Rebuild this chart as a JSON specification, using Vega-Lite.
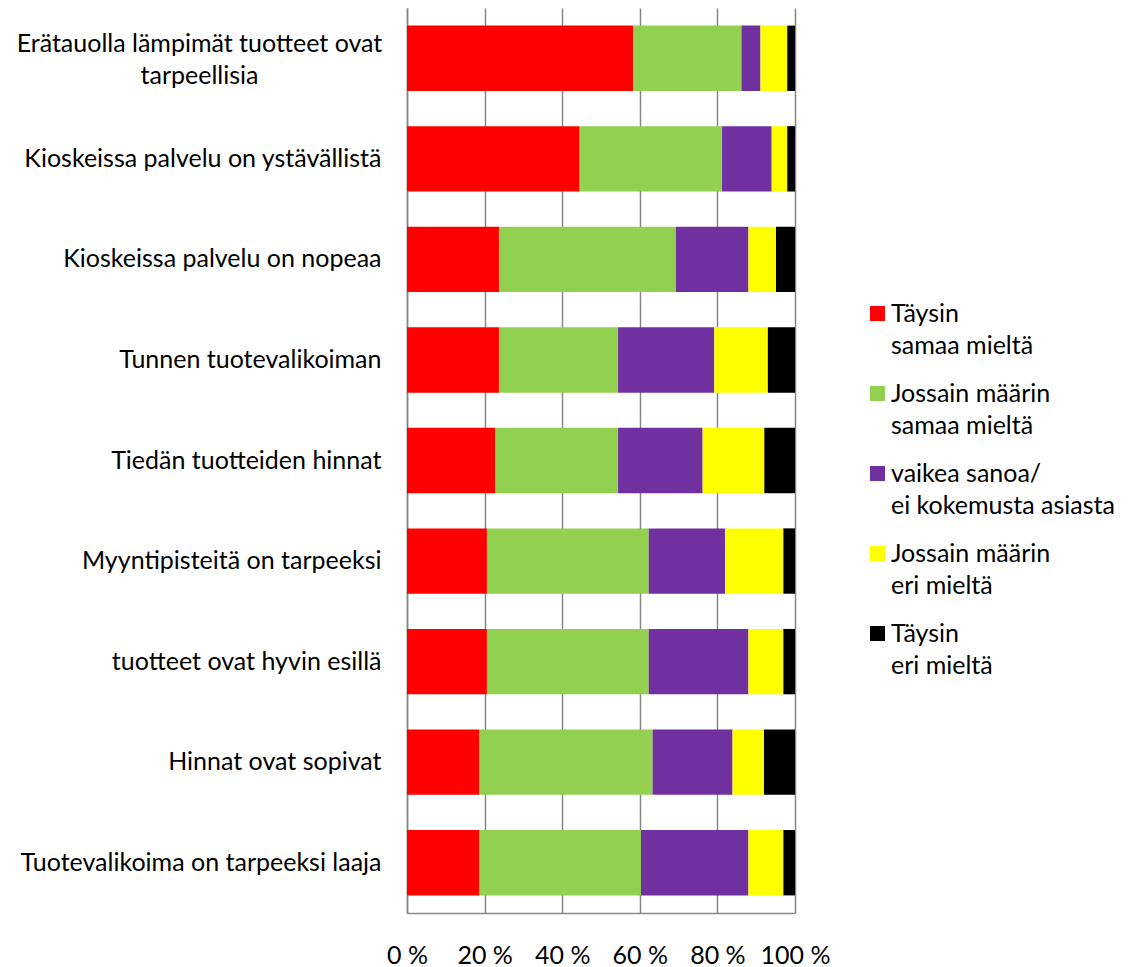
{
  "$schema": "https://vega.github.io/schema/vega-lite/v6.json",
  "autosize": {"type": "none"},
  "padding": {"left": 407, "top": 8, "right": 340, "bottom": 54},
  "width": 388,
  "height": 905,
  "background": "white",
  "config": {
    "font": "Lato",
    "view": {"stroke": null},
    "style": {"guide-label": {"lineHeight": 32}},
    "axis": {
      "labelFont": "Lato",
      "labelFontSize": 25,
      "labelColor": "#000000",
      "domainColor": "#868686",
      "domainWidth": 1.5,
      "gridColor": "#868686",
      "gridWidth": 1.5,
      "ticks": false,
      "title": null
    },
    "legend": {
      "labelFont": "Lato",
      "labelFontSize": 25,
      "labelColor": "#000000",
      "padding": 0
    }
  },
  "data": {
    "values": [
      {"kysymys": "Erätauolla lämpimät tuotteet ovat tarpeellisia", "vastaus": "Täysin samaa mieltä", "n": 1, "osuus": 58.3},
      {"kysymys": "Erätauolla lämpimät tuotteet ovat tarpeellisia", "vastaus": "Jossain määrin samaa mieltä", "n": 2, "osuus": 27.9},
      {"kysymys": "Erätauolla lämpimät tuotteet ovat tarpeellisia", "vastaus": "vaikea sanoa/ ei kokemusta asiasta", "n": 3, "osuus": 4.9},
      {"kysymys": "Erätauolla lämpimät tuotteet ovat tarpeellisia", "vastaus": "Jossain määrin eri mieltä", "n": 4, "osuus": 6.9},
      {"kysymys": "Erätauolla lämpimät tuotteet ovat tarpeellisia", "vastaus": "Täysin eri mieltä", "n": 5, "osuus": 2.0},

      {"kysymys": "Kioskeissa palvelu on ystävällistä", "vastaus": "Täysin samaa mieltä", "n": 1, "osuus": 44.5},
      {"kysymys": "Kioskeissa palvelu on ystävällistä", "vastaus": "Jossain määrin samaa mieltä", "n": 2, "osuus": 36.7},
      {"kysymys": "Kioskeissa palvelu on ystävällistä", "vastaus": "vaikea sanoa/ ei kokemusta asiasta", "n": 3, "osuus": 12.8},
      {"kysymys": "Kioskeissa palvelu on ystävällistä", "vastaus": "Jossain määrin eri mieltä", "n": 4, "osuus": 4.0},
      {"kysymys": "Kioskeissa palvelu on ystävällistä", "vastaus": "Täysin eri mieltä", "n": 5, "osuus": 2.0},

      {"kysymys": "Kioskeissa palvelu on nopeaa", "vastaus": "Täysin samaa mieltä", "n": 1, "osuus": 23.7},
      {"kysymys": "Kioskeissa palvelu on nopeaa", "vastaus": "Jossain määrin samaa mieltä", "n": 2, "osuus": 45.6},
      {"kysymys": "Kioskeissa palvelu on nopeaa", "vastaus": "vaikea sanoa/ ei kokemusta asiasta", "n": 3, "osuus": 18.7},
      {"kysymys": "Kioskeissa palvelu on nopeaa", "vastaus": "Jossain määrin eri mieltä", "n": 4, "osuus": 7.1},
      {"kysymys": "Kioskeissa palvelu on nopeaa", "vastaus": "Täysin eri mieltä", "n": 5, "osuus": 4.9},

      {"kysymys": "Tunnen tuotevalikoiman", "vastaus": "Täysin samaa mieltä", "n": 1, "osuus": 23.7},
      {"kysymys": "Tunnen tuotevalikoiman", "vastaus": "Jossain määrin samaa mieltä", "n": 2, "osuus": 30.7},
      {"kysymys": "Tunnen tuotevalikoiman", "vastaus": "vaikea sanoa/ ei kokemusta asiasta", "n": 3, "osuus": 24.8},
      {"kysymys": "Tunnen tuotevalikoiman", "vastaus": "Jossain määrin eri mieltä", "n": 4, "osuus": 13.8},
      {"kysymys": "Tunnen tuotevalikoiman", "vastaus": "Täysin eri mieltä", "n": 5, "osuus": 7.0},

      {"kysymys": "Tiedän tuotteiden hinnat", "vastaus": "Täysin samaa mieltä", "n": 1, "osuus": 22.7},
      {"kysymys": "Tiedän tuotteiden hinnat", "vastaus": "Jossain määrin samaa mieltä", "n": 2, "osuus": 31.7},
      {"kysymys": "Tiedän tuotteiden hinnat", "vastaus": "vaikea sanoa/ ei kokemusta asiasta", "n": 3, "osuus": 21.8},
      {"kysymys": "Tiedän tuotteiden hinnat", "vastaus": "Jossain määrin eri mieltä", "n": 4, "osuus": 15.9},
      {"kysymys": "Tiedän tuotteiden hinnat", "vastaus": "Täysin eri mieltä", "n": 5, "osuus": 7.9},

      {"kysymys": "Myyntipisteitä on tarpeeksi", "vastaus": "Täysin samaa mieltä", "n": 1, "osuus": 20.6},
      {"kysymys": "Myyntipisteitä on tarpeeksi", "vastaus": "Jossain määrin samaa mieltä", "n": 2, "osuus": 41.7},
      {"kysymys": "Myyntipisteitä on tarpeeksi", "vastaus": "vaikea sanoa/ ei kokemusta asiasta", "n": 3, "osuus": 19.7},
      {"kysymys": "Myyntipisteitä on tarpeeksi", "vastaus": "Jossain määrin eri mieltä", "n": 4, "osuus": 15.0},
      {"kysymys": "Myyntipisteitä on tarpeeksi", "vastaus": "Täysin eri mieltä", "n": 5, "osuus": 3.0},

      {"kysymys": "tuotteet ovat hyvin esillä", "vastaus": "Täysin samaa mieltä", "n": 1, "osuus": 20.6},
      {"kysymys": "tuotteet ovat hyvin esillä", "vastaus": "Jossain määrin samaa mieltä", "n": 2, "osuus": 41.7},
      {"kysymys": "tuotteet ovat hyvin esillä", "vastaus": "vaikea sanoa/ ei kokemusta asiasta", "n": 3, "osuus": 25.7},
      {"kysymys": "tuotteet ovat hyvin esillä", "vastaus": "Jossain määrin eri mieltä", "n": 4, "osuus": 9.0},
      {"kysymys": "tuotteet ovat hyvin esillä", "vastaus": "Täysin eri mieltä", "n": 5, "osuus": 3.0},

      {"kysymys": "Hinnat ovat sopivat", "vastaus": "Täysin samaa mieltä", "n": 1, "osuus": 18.7},
      {"kysymys": "Hinnat ovat sopivat", "vastaus": "Jossain määrin samaa mieltä", "n": 2, "osuus": 44.6},
      {"kysymys": "Hinnat ovat sopivat", "vastaus": "vaikea sanoa/ ei kokemusta asiasta", "n": 3, "osuus": 20.6},
      {"kysymys": "Hinnat ovat sopivat", "vastaus": "Jossain määrin eri mieltä", "n": 4, "osuus": 8.1},
      {"kysymys": "Hinnat ovat sopivat", "vastaus": "Täysin eri mieltä", "n": 5, "osuus": 8.0},

      {"kysymys": "Tuotevalikoima on tarpeeksi laaja", "vastaus": "Täysin samaa mieltä", "n": 1, "osuus": 18.7},
      {"kysymys": "Tuotevalikoima on tarpeeksi laaja", "vastaus": "Jossain määrin samaa mieltä", "n": 2, "osuus": 41.6},
      {"kysymys": "Tuotevalikoima on tarpeeksi laaja", "vastaus": "vaikea sanoa/ ei kokemusta asiasta", "n": 3, "osuus": 27.7},
      {"kysymys": "Tuotevalikoima on tarpeeksi laaja", "vastaus": "Jossain määrin eri mieltä", "n": 4, "osuus": 9.0},
      {"kysymys": "Tuotevalikoima on tarpeeksi laaja", "vastaus": "Täysin eri mieltä", "n": 5, "osuus": 3.0}
    ]
  },
  "mark": {"type": "bar"},
  "encoding": {
    "y": {
      "field": "kysymys",
      "type": "nominal",
      "sort": null,
      "scale": {"paddingInner": 0.35, "paddingOuter": 0.175},
      "axis": {
        "grid": false,
        "labelPadding": {"condition": {"test": "indexof(datum.label, 'Erätauolla') == 0", "value": 208}, "value": 26},
        "labelAlign": {"condition": {"test": "indexof(datum.label, 'Erätauolla') == 0", "value": "center"}, "value": "right"},
        "labelOffset": {"condition": {"test": "indexof(datum.label, 'Erätauolla') == 0", "value": -14}, "value": 0},
        "labelLimit": 420,
        "labelExpr": "indexof(datum.label, 'Erätauolla') == 0 ? ['Erätauolla lämpimät tuotteet ovat', 'tarpeellisia'] : datum.label"
      }
    },
    "x": {
      "field": "osuus",
      "type": "quantitative",
      "stack": "zero",
      "scale": {"domain": [0, 100], "nice": false},
      "axis": {
        "values": [0, 20, 40, 60, 80, 100],
        "grid": true,
        "labelPadding": 30,
        "labelFlush": false,
        "labelExpr": "datum.value + ' %'"
      }
    },
    "color": {
      "field": "vastaus",
      "type": "nominal",
      "scale": {
        "domain": ["Täysin samaa mieltä", "Jossain määrin samaa mieltä", "vaikea sanoa/ ei kokemusta asiasta", "Jossain määrin eri mieltä", "Täysin eri mieltä"],
        "range": ["#FF0000", "#92D050", "#7030A0", "#FFFF00", "#000000"]
      },
      "legend": {
        "title": null,
        "orient": "none",
        "legendX": 458,
        "legendY": 293,
        "symbolType": "square",
        "symbolSize": 225,
        "symbolStrokeWidth": 0,
        "labelOffset": 1,
        "rowPadding": 22,
        "labelLimit": 300,
        "labelExpr": "datum.label == 'Täysin samaa mieltä' ? ['Täysin', '\u2002samaa mieltä'] : datum.label == 'Jossain määrin samaa mieltä' ? ['Jossain määrin', 'samaa mieltä'] : datum.label == 'vaikea sanoa/ ei kokemusta asiasta' ? ['vaikea sanoa/', '\u2002ei kokemusta asiasta'] : datum.label == 'Jossain määrin eri mieltä' ? ['Jossain määrin', 'eri mieltä'] : ['Täysin', 'eri mieltä']"
      }
    },
    "order": {"field": "n", "type": "quantitative"}
  }
}
